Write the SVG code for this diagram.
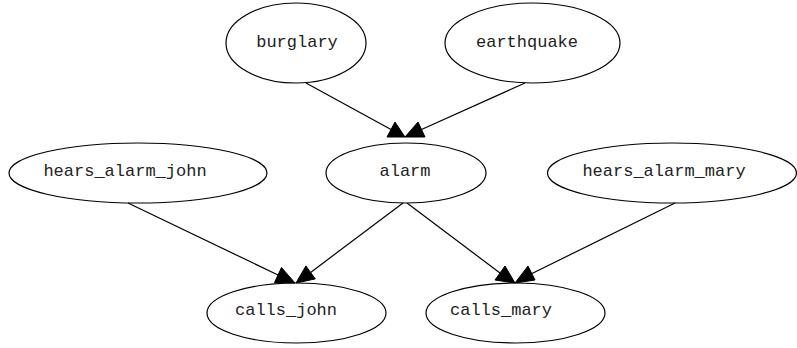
<svg xmlns="http://www.w3.org/2000/svg" width="797" height="348" viewBox="0 0 797 348">
<style>
.n ellipse{fill:none;stroke:#000;stroke-width:1.2}
.n text{font-family:"Liberation Mono","DejaVu Sans Mono",monospace;font-size:17px;fill:#222;text-anchor:middle}
.e line{stroke:#000;stroke-width:1.2}
.e polygon{fill:#000;stroke:#000;stroke-width:1}
</style>
<rect width="797" height="348" fill="#fff"/>
<g class="e" id="edges">
<line x1="306" y1="83" x2="391" y2="129.5"/>
<polygon points="387,137 395,122 405,137"/>
<line x1="525" y1="83" x2="421.5" y2="129.5"/>
<polygon points="405,137 418,122 425,137"/>
<line x1="128" y1="203" x2="278" y2="275"/>
<polygon points="274.5,282.5 281.5,267.5 295,283"/>
<line x1="403" y1="203" x2="310.6" y2="272.4"/>
<polygon points="296,283 305.9,265.9 315.3,278.9"/>
<line x1="407" y1="203" x2="500" y2="273"/>
<polygon points="495,280 505,266 515,283"/>
<line x1="675" y1="203" x2="531" y2="274"/>
<polygon points="515,283 528,266 535,280"/>
</g>
<g class="n" id="burglary"><ellipse cx="296" cy="43" rx="70" ry="40"/><text x="297" y="47">burglary</text></g>
<g class="n" id="earthquake"><ellipse cx="532.5" cy="43" rx="87.5" ry="40"/><text x="527" y="47">earthquake</text></g>
<g class="n" id="hears_alarm_john"><ellipse cx="138" cy="173" rx="129" ry="30"/><text x="125" y="176">hears_alarm_john</text></g>
<g class="n" id="alarm"><ellipse cx="406" cy="173" rx="80" ry="30"/><text x="405" y="176">alarm</text></g>
<g class="n" id="hears_alarm_mary"><ellipse cx="672" cy="173" rx="124.5" ry="30"/><text x="664" y="176">hears_alarm_mary</text></g>
<g class="n" id="calls_john"><ellipse cx="296.5" cy="313" rx="89.5" ry="30"/><text x="286" y="315">calls_john</text></g>
<g class="n" id="calls_mary"><ellipse cx="515.5" cy="313" rx="89.5" ry="30"/><text x="501" y="315">calls_mary</text></g>
</svg>
